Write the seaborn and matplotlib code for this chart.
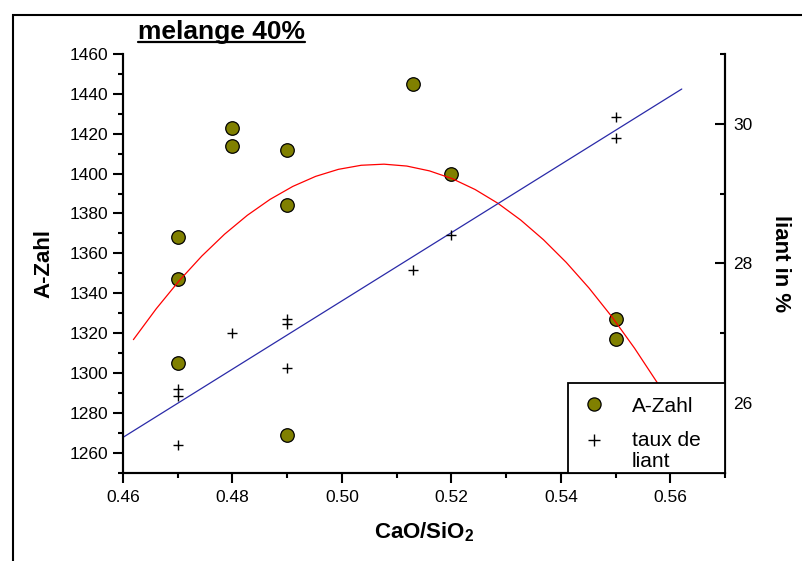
import numpy as np
import pandas as pd
import matplotlib
matplotlib.use("Agg")
import matplotlib.pyplot as plt
from matplotlib.lines import Line2D
from matplotlib.patches import Rectangle
from matplotlib.ticker import MultipleLocator
from matplotlib.legend_handler import HandlerLine2D
import seaborn as sns

# ---- data ----
azahl_x = [0.47, 0.47, 0.47, 0.48, 0.48, 0.49, 0.49, 0.49, 0.513, 0.52, 0.55, 0.55]
azahl_y = [1368, 1347, 1305, 1423, 1414, 1412, 1384, 1269, 1445, 1400, 1327, 1317]
liant_x = [0.47, 0.47, 0.47, 0.48, 0.49, 0.49, 0.49, 0.513, 0.52, 0.55, 0.55]
liant_y = [26.2, 26.1, 25.4, 27.0, 27.2, 27.13, 26.5, 27.9, 28.4, 30.1, 29.8]
title = "melange 40%"
xlabel = "CaO/SiO$_{\\mathbf{2}}$"
ylabel_left = "A-Zahl"
ylabel_right = "liant in %"
legend_labels = ["A-Zahl", "taux de\nliant"]

sns.set_theme(style="white")
plt.rcParams["font.family"] = ["Liberation Sans", "DejaVu Sans"]
plt.rcParams["mathtext.fontset"] = "custom"
plt.rcParams["mathtext.rm"] = "Liberation Sans"
plt.rcParams["mathtext.bf"] = "Liberation Sans:bold"
plt.rcParams["text.color"] = "black"
plt.rcParams["axes.labelcolor"] = "black"
plt.rcParams["xtick.color"] = "black"
plt.rcParams["ytick.color"] = "black"

df_a = pd.DataFrame({"x": azahl_x, "y": azahl_y})
df_l = pd.DataFrame({"x": liant_x, "y": liant_y})

fig = plt.figure(figsize=(8.02, 5.61), dpi=100)
ax = fig.add_axes([123/802, 1-472.6/561, 602/802, 418.6/561])
ax2 = ax.twinx()

# quadratic fit for A-Zahl, linear fit for liant
pa = np.polyfit(azahl_x, azahl_y, 2)
xa = np.linspace(0.4619, 0.5618, 25)
fit_a = pd.DataFrame({"x": xa, "y": np.polyval(pa, xa)})
pl = np.polyfit(liant_x, liant_y, 1)
xl = np.linspace(0.4579, 0.5621, 2)
fit_l = pd.DataFrame({"x": xl, "y": np.polyval(pl, xl)})

sns.scatterplot(data=df_a, x="x", y="y", ax=ax, s=95, color="#808000",
                edgecolor="black", linewidth=0.9, zorder=3, legend=False)
sns.lineplot(data=fit_a, x="x", y="y", ax=ax, color="#ff0000", lw=0.9,
             zorder=4, legend=False)
sns.scatterplot(data=df_l, x="x", y="y", ax=ax2, marker="+", s=60,
                color="black", linewidth=1.0, zorder=3, legend=False)
sns.lineplot(data=fit_l, x="x", y="y", ax=ax2, color="#2a2aa8", lw=0.9,
             zorder=2, legend=False)

ax.set_xlim(0.46, 0.57)
ax.set_ylim(1250, 1460)
ax2.set_ylim(25, 31)

ax.xaxis.set_major_locator(MultipleLocator(0.02))
ax.xaxis.set_minor_locator(MultipleLocator(0.01))
ax.yaxis.set_major_locator(MultipleLocator(20))
ax.yaxis.set_minor_locator(MultipleLocator(10))
ax2.yaxis.set_major_locator(MultipleLocator(2))
ax2.yaxis.set_minor_locator(MultipleLocator(1))
ax.xaxis.set_major_formatter(matplotlib.ticker.FormatStrFormatter("%.2f"))

ax.set_yticks([1260, 1280, 1300, 1320, 1340, 1360, 1380, 1400, 1420, 1440, 1460])

for a in (ax, ax2):
    for side in ("left", "right", "bottom", "top"):
        a.spines[side].set_linewidth(1.5)
        a.spines[side].set_color("black")
    a.spines["top"].set_visible(False)

ax.tick_params(axis="both", which="major", direction="out", length=7.2,
               width=1.5, labelsize=12.5, color="black", labelcolor="black")
ax.tick_params(axis="both", which="minor", direction="out", length=3.6,
               width=1.5, color="black")
ax.tick_params(axis="x", which="both", bottom=True, pad=5)
ax.tick_params(axis="y", which="both", left=True, right=False)
ax2.tick_params(axis="y", which="major", direction="in", length=7.2,
                width=1.5, labelsize=12.5, pad=6, right=True, color="black",
                labelcolor="black")
ax2.tick_params(axis="y", which="minor", direction="in", length=3.6,
                width=1.5, right=True, color="black")

ax.set_xlabel(xlabel, fontsize=16, fontweight="bold", color="black")
ax.xaxis.set_label_coords(0.5, -0.142)
ax.xaxis.label.set_va("center")
ax.set_ylabel(ylabel_left, fontsize=16, fontweight="bold", color="black")
ax.yaxis.set_label_coords(-0.131, 0.5)
ax.yaxis.label.set_va("center")
ax2.set_ylabel(ylabel_right, fontsize=16, fontweight="bold", rotation=-90,
               color="black")
ax2.yaxis.set_label_coords(1.093, 0.5)
ax2.yaxis.label.set_va("center")


class ShiftedHandler(HandlerLine2D):
    """Places the marker level with the first line of a two-line label."""
    def __init__(self, shift, **kw):
        super().__init__(**kw)
        self.shift = shift

    def create_artists(self, legend, orig_handle, xdescent, ydescent,
                       width, height, fontsize, trans):
        arts = super().create_artists(legend, orig_handle, xdescent, ydescent,
                                      width, height, fontsize, trans)
        for a in arts:
            x, y = a.get_data()
            a.set_data(x, np.asarray(y) + self.shift * fontsize)
        return arts


# legend box
box = Rectangle((0.739, 0.0), 0.261, 0.214, transform=ax2.transAxes,
                facecolor="white", edgecolor="black", lw=1.3, zorder=5)
ax2.add_patch(box)
h_circle = Line2D([], [], ls="none", marker="o", markersize=9.5,
                  markerfacecolor="#808000", markeredgecolor="black",
                  markeredgewidth=0.9)
h_plus = Line2D([], [], ls="none", marker="+", markersize=8,
                color="black", markeredgewidth=1.0)
leg = ax2.legend([h_circle, h_plus], legend_labels, loc="upper left",
                 bbox_to_anchor=(0.739, 0.214), frameon=False, fontsize=15,
                 handletextpad=1.22, labelspacing=0.74, borderpad=0.65,
                 handlelength=1.2, borderaxespad=0.0,
                 handler_map={h_plus: ShiftedHandler(0.55)})
for txt in leg.get_texts():
    txt.set_color("black")
    txt.set_linespacing(1.15)
leg.set_zorder(6)

# title with underline
t = fig.text(221/802, 1-39.3/561, title, fontsize=19, fontweight="bold",
             ha="center", va="baseline", color="black")
fig.canvas.draw()
bb = t.get_window_extent()
uy = 1 - 41.8/561
fig.add_artist(Line2D([bb.x0/fig.bbox.width, bb.x1/fig.bbox.width], [uy, uy],
                      transform=fig.transFigure, color="black", lw=1.6))

# outer frame
fig.add_artist(Rectangle((13/802, -0.2), 1.5, (1-14.7/561)+0.2,
                         transform=fig.transFigure, fill=False,
                         edgecolor="black", lw=1.5, clip_on=False))

fig.savefig("out.png", dpi=100)
